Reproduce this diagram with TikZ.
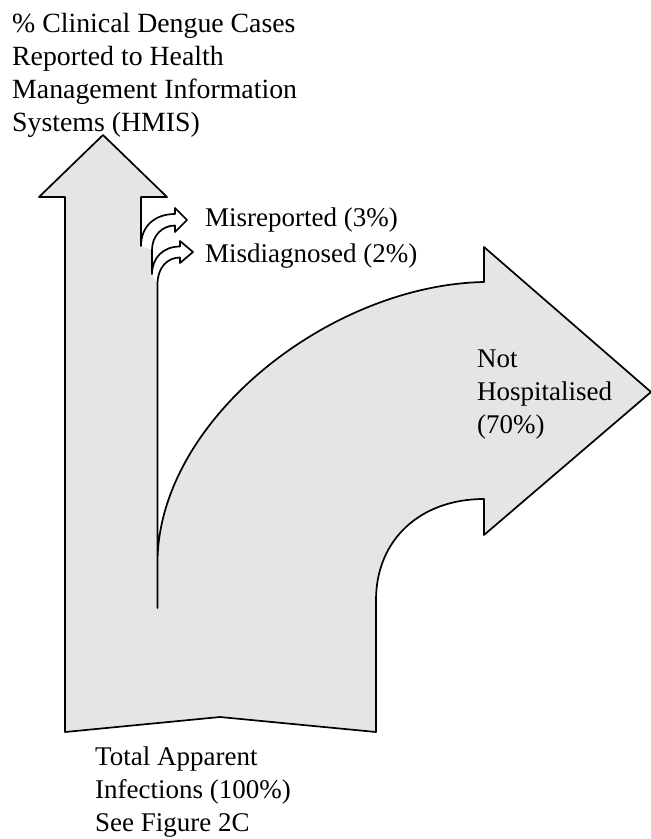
\documentclass[tikz,border=0pt]{standalone}
\usepackage{fontspec}
\setmainfont{Liberation Serif}
\definecolor{shapegrey}{RGB}{228,229,229}
\newcommand{\stacklines}[1]{\vtop{\baselineskip=33pt\lineskiplimit=-100pt\lineskip=0pt\halign{##\hfil\cr#1\crcr}}}
\begin{document}
\begin{tikzpicture}[x=1pt,y=-1pt,
  outline/.style={draw=black,line width=1.7pt,line join=round,line cap=round},
  label/.style={inner sep=0pt,anchor=base west,font=\fontsize{27}{33}\selectfont},
  biglabel/.style={label,font=\fontsize{27.8}{33}\selectfont}]
\useasboundingbox (0,0) rectangle (651,839);
% grey flow shape
\fill[shapegrey] (65,732) -- (65,197) -- (39,197) -- (103,135) -- (167,197) -- (141,197) -- (141,246)
  -- (152,250) -- (152,274) -- (157.5,284) -- (157.5,563)
  .. controls (157.5,420) and (330,285) .. (484,282) -- (484,247) -- (651,392) -- (484,535) -- (484,499)
  .. controls (420,499) and (376,540) .. (376,600) -- (376,732) -- (220,717) -- cycle;
% outline
\draw[outline] (157.5,608) -- (157.5,284)
  .. controls (157.5,268) and (167,257.5) .. (180,257.5) -- (180,263) -- (193,252) -- (180,241) -- (180,246.5)
  .. controls (163,246.5) and (152,258) .. (152,274) -- (152,250)
  .. controls (152,236) and (162,225.5) .. (175,225.5) -- (175,232) -- (187,220) -- (175,208) -- (175,214)
  .. controls (155,214) and (141,226) .. (141,246) -- (141,197) -- (167,197) -- (103,135) -- (39,197)
  -- (65,197) -- (65,732) -- (220,717) -- (376,732) -- (376,600)
  .. controls (376,540) and (420,499) .. (484,499) -- (484,535) -- (651,392) -- (484,247) -- (484,282)
  .. controls (330,285) and (157.5,420) .. (157.5,563);
% labels
\node[biglabel] (hmis) at (12,32) {\stacklines{\% Clinical Dengue Cases\cr Reported to Health\cr Management Information\cr Systems (HMIS)}};
\node[label] (misrep) at (205,226) {Misreported (3\%)};
\node[label] (misdiag) at (205,262) {Misdiagnosed (2\%)};
\node[label] (nothosp) at (477,367) {\stacklines{Not\cr Hospitalised\cr (70\%)}};
\node[label] (total) at (95,765) {\stacklines{Total Apparent\cr Infections (100\%)\cr See Figure 2C}};
\end{tikzpicture}
\end{document}
